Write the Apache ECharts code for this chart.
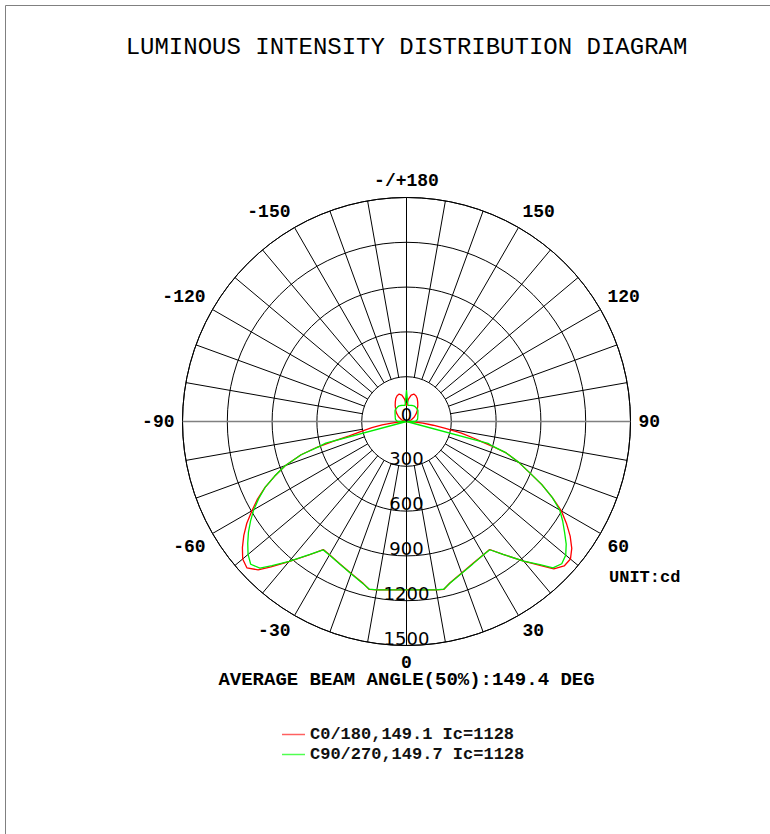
<!DOCTYPE html>
<html>
<head>
<meta charset="utf-8">
<script src="https://cdn.jsdelivr.net/npm/echarts@6/dist/echarts.min.js"></script>
<style>
  html, body { margin: 0; padding: 0; background: #fff; }
  #chart { width: 770px; height: 834px; }
</style>
</head>
<body>
<div id="chart"></div>
<script>
// ---- data (gamma angle in degrees, intensity in cd) ----
const angles = [
  -180, -175, -170, -165, -160, -155, -150, -145, -140, -135, -130, -120, -110, -100,
  -90, -88, -86, -84, -82, -80, -78, -76, -75, -74, -72.5, -70, -67.5, -65, -62.5,
  -60, -57.5, -55, -52.5, -50, -47.5, -45, -43, -40, -36, -33, -30, -25, -20, -15,
  -12.5, -10, -5, 0, 5, 10, 12.5, 15, 20, 25, 30, 33, 36, 40, 43, 45, 47.5, 50,
  52.5, 55, 57.5, 60, 62.5, 65, 67.5, 70, 72.5, 74, 75, 76, 78, 80, 82, 84, 86, 88,
  90, 100, 110, 120, 130, 135, 140, 145, 150, 155, 160, 165, 170, 175, 180
];
const c0Values = [
  105, 150, 180, 190, 184, 170, 150, 132, 114, 100, 87, 60, 35, 15,
  0, 20, 55, 100, 165, 235, 300, 395, 500, 620, 740, 865, 955, 1045, 1125,
  1195, 1268, 1330, 1385, 1432, 1450, 1405, 1331, 1225, 1103, 1023, 1031, 1053, 1083, 1122,
  1152, 1145, 1132, 1128, 1132, 1145, 1152, 1120, 1080, 1050, 1030, 1022, 1100, 1220, 1320, 1395, 1432, 1433,
  1395, 1338, 1270, 1198, 1100, 1000, 890, 800, 700, 590, 520, 470, 376, 265, 180, 110, 60, 25,
  0, 15, 35, 60, 87, 100, 114, 132, 150, 170, 184, 190, 180, 150, 105
];
const c90Values = [
  210, 108, 110, 112, 114, 115, 115, 112, 110, 108, 100, 88, 80, 75,
  60, 0, 0, 0, 0, 0, 0, 0, 560, 610, 740, 865, 955, 1045, 1115,
  1181, 1238, 1292, 1340, 1385, 1415, 1388, 1320, 1222, 1100, 1025, 1032, 1054, 1085, 1124,
  1150, 1145, 1132, 1128, 1132, 1145, 1150, 1122, 1082, 1052, 1031, 1024, 1100, 1220, 1310, 1387, 1410, 1392,
  1348, 1292, 1240, 1185, 1100, 1000, 890, 800, 700, 600, 565, 0, 0, 0, 0, 0, 0, 0,
  60, 75, 80, 88, 100, 108, 110, 112, 115, 115, 114, 112, 110, 108, 210
];
const ringTicks = [0, 300, 600, 900, 1200, 1500];
const spokeAngles = [10, 20, 30, 40, 50, 60, 70, 80, 100, 110, 120, 130, 140, 150, 160, 170,
                     190, 200, 210, 220, 230, 240, 250, 260, 280, 290, 300, 310, 320, 330, 340, 350];
const seriesNames = ['C0/180,149.1 Ic=1128', 'C90/270,149.7 Ic=1128'];
const titleText = 'LUMINOUS INTENSITY DISTRIBUTION DIAGRAM';
const beamText = 'AVERAGE BEAM ANGLE(50%):149.4 DEG';
const unitText = 'UNIT:cd';

// ---- build ----
const toAxisAngle = a => (a < 0 ? a + 360 : a);
const curve = vals => angles.map((a, i) => [vals[i], toAxisAngle(a)]);

const chart = echarts.init(document.getElementById('chart'), null, { renderer: 'svg' });

const gridSeries = spokeAngles.map(a => ({
  type: 'line', coordinateSystem: 'polar', silent: true, symbol: 'none', z: 1,
  animation: false, lineStyle: { color: '#000', width: 1 },
  data: [[ringTicks[1], a], [ringTicks[ringTicks.length - 1], a]]
}));
gridSeries.push({
  type: 'line', coordinateSystem: 'polar', silent: true, symbol: 'none', z: 1, animation: false,
  lineStyle: { color: '#000', width: 1 }, data: [[1500, 0], [1500, 180]]
});
gridSeries.push({
  type: 'line', coordinateSystem: 'polar', silent: true, symbol: 'none', z: 1, animation: false,
  lineStyle: { color: '#808080', width: 1.5 }, data: [[1500, 90], [1500, 270]]
});

const option = {
  animation: false,
  backgroundColor: '#fff',
  polar: { center: [406.5, 421.5], radius: 224 },
  angleAxis: {
    type: 'value', min: 0, max: 360, interval: 30, startAngle: 270, clockwise: false,
    axisLine: { show: true, lineStyle: { color: '#000', width: 1 } },
    axisTick: { show: false },
    splitLine: { show: false },
    axisLabel: {
      show: true, margin: 8, color: '#000', fontSize: 18, fontWeight: 'bold',
      fontFamily: '"Liberation Mono", monospace',
      formatter: v => (v === 360 ? '' : v === 180 ? '-/+180' : v > 180 ? String(v - 360) : String(v))
    }
  },
  radiusAxis: {
    type: 'value', min: 0, max: 1500, interval: 300,
    axisLine: { show: false }, axisTick: { show: false }, axisLabel: { show: false },
    splitLine: { show: true, lineStyle: { color: '#000', width: 1 } }
  },
  legend: {
    show: true, orient: 'vertical', left: 277, top: 721,
    icon: 'rect', itemWidth: 23, itemHeight: 1.5, itemGap: 3, padding: 5,
    data: [
      { name: seriesNames[0], itemStyle: { color: '#ff6060' } },
      { name: seriesNames[1], itemStyle: { color: '#50ff50' } }
    ],
    textStyle: { fontFamily: '"Liberation Mono", monospace', fontWeight: 'bold', fontSize: 17,
                 color: '#111', lineHeight: 17 }
  },
  graphic: [
    { type: 'rect', silent: true, z: -10, shape: { x: 5.5, y: 5.5, width: 820, height: 900 },
      style: { fill: 'none', stroke: '#808080', lineWidth: 1 } },
    { type: 'text', x: 406.5, y: 47, silent: true,
      style: { text: titleText, font: '24px "Liberation Mono", monospace', fill: '#000',
               textAlign: 'center', textVerticalAlign: 'middle' } },
    { type: 'text', x: 406.5, y: 680, silent: true,
      style: { text: beamText, font: 'bold 19px "Liberation Mono", monospace', fill: '#000',
               textAlign: 'center', textVerticalAlign: 'middle' } },
    { type: 'text', x: 609, y: 577, silent: true,
      style: { text: unitText, font: 'bold 17px "Liberation Mono", monospace', fill: '#000',
               textAlign: 'left', textVerticalAlign: 'middle' } }
  ],
  series: gridSeries.concat([
    {
      name: seriesNames[0], type: 'line', coordinateSystem: 'polar', symbol: 'none', z: 3,
      smooth: false, lineStyle: { color: '#ff0000', width: 1.3 }, itemStyle: { color: '#ff0000' },
      data: curve(c0Values)
    },
    {
      name: seriesNames[1], type: 'line', coordinateSystem: 'polar', symbol: 'none', z: 4,
      smooth: false, lineStyle: { color: '#00ee00', width: 1.3 }, itemStyle: { color: '#00ee00' },
      data: curve(c90Values)
    },
    {
      type: 'scatter', coordinateSystem: 'polar', silent: true, z: 5, symbolSize: 1,
      itemStyle: { color: '#000', opacity: 1 },
      label: {
        show: true, position: 'top', distance: -2, color: '#000', opacity: 1, fontSize: 18,
        fontFamily: '"DejaVu Sans", sans-serif', formatter: p => String(p.value[0])
      },
      data: ringTicks.map(r => [r, 0])
    }
  ])
};
chart.setOption(option);
</script>
</body>
</html>
